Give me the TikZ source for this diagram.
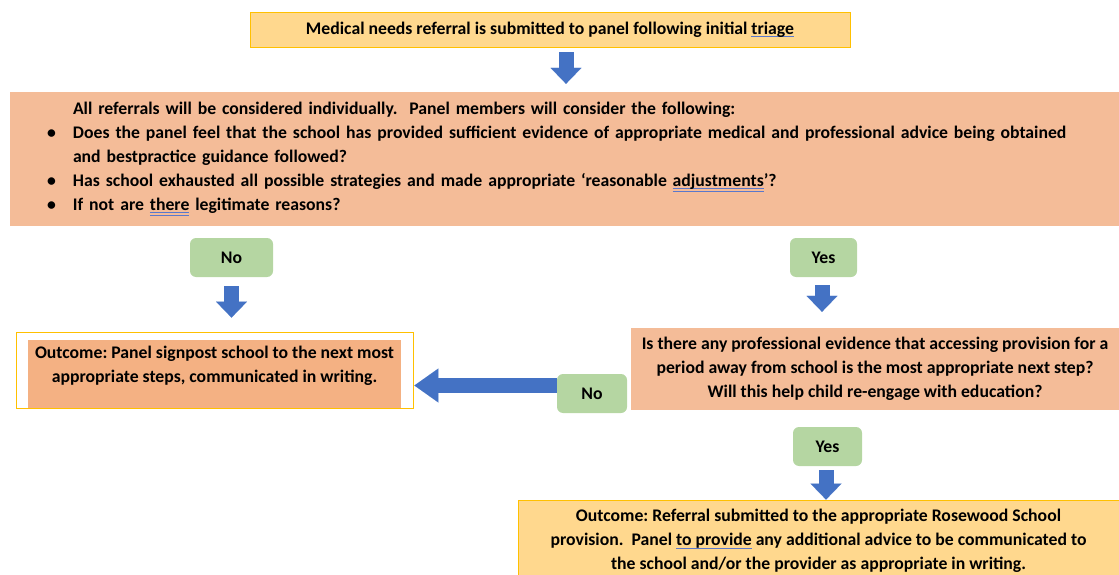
\documentclass[tikz,border=0pt]{standalone}
\usepackage{fontspec}
\setmainfont{Carlito}
\usetikzlibrary{positioning,arrows.meta}
\definecolor{boxamber}{HTML}{FFD88E}
\definecolor{amberline}{HTML}{FFC000}
\definecolor{peach}{HTML}{F4BC98}
\definecolor{peachdark}{HTML}{F4B183}
\definecolor{choicegreen}{HTML}{B5D6A2}
\definecolor{arrowblue}{HTML}{4472C4}
\definecolor{markblue}{HTML}{5A78CC}
\frenchspacing
\newcommand{\markone}[1]{\setbox0=\hbox{#1}\rlap{\color{markblue}\rule[-3pt]{\wd0}{1pt}}\box0\relax}
\newcommand{\marktwo}[1]{\setbox0=\hbox{#1}\rlap{\color{markblue}\rule[-2.4pt]{\wd0}{0.9pt}}\rlap{\color{markblue}\rule[-4.6pt]{\wd0}{0.9pt}}\box0\relax}
\newcommand{\bulletitem}{\makebox[63pt][l]{\hspace*{37pt}\textbullet}}
\tikzset{
  every node/.style={font=\fontsize{17.7}{24}\selectfont\bfseries},
  amberbox/.style={draw=amberline,fill=boxamber,line width=0.8pt,inner sep=0pt,align=center},
  peachbox/.style={fill=peach,inner sep=0pt},
  choice/.style={fill=choicegreen,rounded corners=6pt,minimum height=39pt,inner sep=0pt},
  blockarrow/.style={draw=arrowblue,line width=15pt,-{Triangle[width=31pt,length=16pt,line width=0.01pt]}}
}
\begin{document}
\begin{tikzpicture}[x=1pt,y=1pt]
  \useasboundingbox (0,0) rectangle (1119,-575);
  \node[amberbox,minimum width=600pt,minimum height=35pt] (referral) at (550,-29.5)
    {Medical needs referral is submitted to panel following initial \markone{triage}};
  \node[peachbox,minimum width=1109pt,minimum height=134pt,text width=1109pt,align=left] (panel) at (564.5,-159)
    {\hspace*{63pt}All referrals will be considered individually.\ \ Panel members will consider the following:\\
     \bulletitem Does the panel feel that the school has provided sufficient evidence of appropriate medical and professional advice being obtained\\
     \hspace*{63pt}and bestpractice guidance followed?\\
     \bulletitem Has school exhausted all possible strategies and made appropriate ‘reasonable \marktwo{adjustments}’?\\
     \bulletitem If not are \marktwo{there} legitimate reasons?};
  \node[choice,minimum width=83pt] (noleft) at (231.5,-257.5) {No};
  \node[choice,minimum width=67pt] (yesright) at (823.5,-257.5) {Yes};
  % outcome when the answer is no
  \node[fill=peachdark,minimum width=373pt,minimum height=68pt,inner sep=0pt,align=center] (signtext) at (214.5,-374)
    {Outcome: Panel signpost school to the next most\\ appropriate steps, communicated in writing.\\[-12pt] \strut};
  \node[draw=amberline,line width=0.8pt,minimum width=397pt,minimum height=76pt] (signpost) at (214.5,-370) {};
  \node[peachbox,minimum width=488pt,minimum height=82pt,align=center] (question) at (875,-369)
    {Is there any professional evidence that accessing provision for a\\
     period away from school is the most appropriate next step?\\
     Will this help child re-engage with education?};
  \node[choice,minimum width=70pt] (noright) at (592,-393.5) {No};
  \node[choice,minimum width=69pt] (yeslow) at (827.5,-446.5) {Yes};
  \node[amberbox,minimum width=601pt,minimum height=82pt] (rosewood) at (818.5,-541)
    {Outcome: Referral submitted to the appropriate Rosewood School\\
     provision.\ \ Panel \markone{to provide} any additional advice to be communicated to\\
     the school and/or the provider as appropriate in writing.};
  % block arrows
  \draw[blockarrow,shorten <=5pt,shorten >=8pt] ([xshift=16pt]referral.south) -- ([xshift=16pt]referral.south |- panel.north);
  \draw[blockarrow,shorten <=9pt,shorten >=14pt] (noleft.south) -- (noleft.south |- signpost.north);
  \draw[blockarrow,shorten <=8pt,shorten >=16pt] ([xshift=-1.5pt]yesright.south) -- ([xshift=-1.5pt]yesright.south |- question.north);
  \draw[blockarrow,shorten <=4pt] ([xshift=-1.5pt]yeslow.south) -- ([xshift=-1.5pt]yeslow.south |- rosewood.north);
  \draw[blockarrow,-{Triangle[width=34pt,length=24pt,line width=0.01pt]},shorten >=1pt] ([yshift=8pt]noright.west) -- ([yshift=8pt]noright.west -| signpost.east);
\end{tikzpicture}
\end{document}
